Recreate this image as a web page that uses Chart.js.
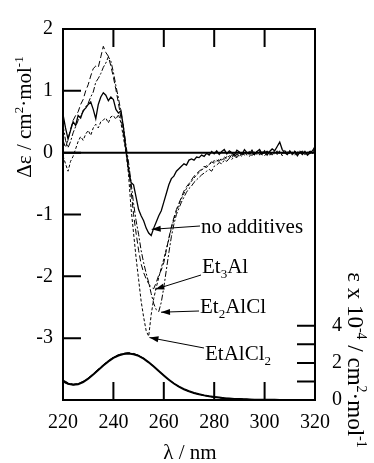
<!DOCTYPE html>
<html>
<head>
<meta charset="utf-8">
<script src="https://cdn.jsdelivr.net/npm/chart.js@4.4.1/dist/chart.umd.min.js"></script>
<style>
  html, body { margin: 0; padding: 0; background: #fff; }
  #wrap { width: 374px; height: 463px; }
</style>
</head>
<body>
<div id="wrap"><canvas id="cd"></canvas></div>
<script>
// wavelengths (nm) for the CD spectra
const wl = [220,221,222,223,224,225,226,227,228,229,230,231,232,233,234,235,236,237,238,239,
	240,241,242,243,244,245,246,247,248,249,250,251,252,253,254,255,256,257,258,259,
	260,261,262,263,264,265,266,267,268,269,270,271,272,273,274,275,276,277,278,279,
	280,281,282,283,284,285,286,287,288,289,290,291,292,293,294,295,296,297,298,299,
	300,301,302,303,304,305,306,307,308,309,310,311,312,313,314,315,316,317,318,319,320];

// delta epsilon, no additives (solid)
const cdNone = [0.62,0.40,0.22,0.36,0.50,0.44,0.60,0.56,0.68,0.72,0.78,0.82,0.70,0.55,0.78,0.90,0.97,0.93,0.84,0.90,
	0.86,0.70,0.64,0.68,0.40,0.05,-0.28,-0.48,-0.52,-0.72,-0.92,-1.02,-1.10,-1.22,-1.30,-1.34,-1.22,-1.12,-1.02,-0.94,
	-0.80,-0.66,-0.52,-0.42,-0.38,-0.30,-0.26,-0.22,-0.18,-0.20,-0.12,-0.10,-0.12,-0.07,-0.08,-0.04,-0.06,-0.01,-0.04,0.02,
	-0.02,0.03,-0.03,0.02,0.05,-0.02,0.03,0.00,-0.04,0.04,0.01,-0.03,0.05,0.00,-0.02,0.04,-0.03,0.02,0.05,-0.02,
	0.03,-0.04,0.02,0.06,0.03,0.10,0.17,0.05,0.00,-0.03,0.03,-0.02,0.02,-0.05,0.01,-0.03,0.02,-0.04,0.00,0.03,0.10];

// Et3Al (dashed)
const cdEt3Al = [0.20,0.08,0.22,0.38,0.52,0.60,0.66,0.78,0.86,1.00,1.10,1.24,1.36,1.40,1.38,1.55,1.72,1.62,1.56,1.40,
	1.22,1.02,0.80,0.56,0.30,0.04,-0.22,-0.60,-1.00,-1.30,-1.58,-1.80,-1.94,-2.04,-2.12,-2.18,-2.20,-2.10,-1.98,-1.90,
	-1.78,-1.58,-1.38,-1.20,-1.05,-0.92,-0.82,-0.72,-0.62,-0.55,-0.50,-0.44,-0.38,-0.34,-0.30,-0.27,-0.22,-0.24,-0.18,-0.15,
	-0.17,-0.12,-0.14,-0.08,-0.11,-0.06,-0.09,-0.03,-0.07,-0.02,-0.05,0.01,-0.04,-0.01,0.02,-0.05,-0.01,0.02,-0.04,0.01,
	-0.02,0.03,-0.05,0.00,0.02,-0.03,0.03,-0.02,0.01,-0.04,0.02,-0.01,0.03,-0.03,0.00,0.02,-0.04,0.01,-0.02,0.02,0.05];

// Et2AlCl (dash-dot)
const cdEt2AlCl = [0.45,0.20,0.08,0.18,0.32,0.42,0.52,0.60,0.66,0.74,0.80,0.90,0.98,1.14,1.20,1.28,1.38,1.45,1.55,1.48,
	1.30,1.08,0.88,0.66,0.42,0.12,-0.15,-0.48,-0.82,-1.10,-1.32,-1.58,-1.78,-1.95,-2.10,-2.28,-2.44,-2.54,-2.57,-2.42,
	-2.18,-1.90,-1.62,-1.36,-1.16,-1.00,-0.90,-0.80,-0.72,-0.64,-0.58,-0.54,-0.48,-0.44,-0.40,-0.36,-0.33,-0.30,-0.27,-0.30,
	-0.22,-0.20,-0.16,-0.18,-0.12,-0.14,-0.09,-0.11,-0.06,-0.08,-0.03,-0.06,0.00,-0.04,-0.01,-0.05,0.01,-0.03,0.02,-0.04,
	-0.01,0.02,-0.03,0.01,-0.02,0.03,-0.02,0.00,0.04,-0.03,0.01,-0.04,0.02,-0.01,0.03,-0.03,0.01,-0.02,0.03,-0.01,0.04];

// EtAlCl2 (short dash)
const cdEtAlCl2 = [-0.05,-0.18,-0.30,-0.14,-0.06,0.06,0.18,0.26,0.20,0.30,0.36,0.28,0.40,0.46,0.40,0.50,0.53,0.56,0.48,0.58,
	0.60,0.54,0.62,0.48,0.24,0.00,-0.35,-0.90,-1.30,-1.70,-2.05,-2.40,-2.66,-2.88,-2.97,-2.62,-2.36,-2.18,-2.02,-1.86,
	-1.72,-1.56,-1.40,-1.22,-1.08,-0.95,-0.84,-0.74,-0.66,-0.58,-0.52,-0.46,-0.41,-0.36,-0.32,-0.28,-0.25,-0.21,-0.19,-0.16,
	-0.13,-0.15,-0.10,-0.12,-0.07,-0.09,-0.05,-0.08,-0.03,-0.06,-0.01,-0.05,0.01,-0.03,-0.06,0.00,-0.04,0.01,-0.03,0.02,
	-0.05,0.00,0.02,-0.04,0.01,-0.02,0.02,-0.05,0.00,0.03,-0.02,0.01,-0.04,0.02,-0.01,0.03,-0.03,0.00,0.02,-0.02,0.06];

// UV absorption (epsilon x 10^-4), every 2 nm
const absWl = [220,222,224,226,228,230,232,234,236,238,240,242,244,246,248,250,252,254,256,258,
	260,262,264,266,268,270,272,274,276,278,280,282,284,286,288,290,292,294,296,298,
	300,302,304,306,308,310,312,314,316,318,320];
const absNone = [1.00,0.88,0.82,0.85,0.97,1.15,1.38,1.62,1.86,2.08,2.27,2.40,2.48,2.50,2.47,2.38,2.23,2.03,1.80,1.56,
	1.32,1.09,0.89,0.72,0.58,0.47,0.38,0.31,0.25,0.20,0.16,0.13,0.10,0.08,0.06,0.05,0.04,0.03,0.02,0.02,
	0.01,0.01,0.01,0,0,0,0,0,0,0,0];
const absEt3Al = [1.08,0.93,0.85,0.88,1.00,1.18,1.41,1.66,1.90,2.12,2.31,2.44,2.52,2.55,2.51,2.41,2.25,2.05,1.82,1.57,
	1.33,1.10,0.90,0.72,0.58,0.47,0.38,0.31,0.25,0.20,0.16,0.13,0.10,0.08,0.06,0.05,0.04,0.03,0.02,0.02,
	0.01,0.01,0.01,0,0,0,0,0,0,0,0];
const absEt2AlCl = [1.04,0.90,0.84,0.87,0.99,1.17,1.40,1.64,1.88,2.10,2.29,2.42,2.50,2.53,2.49,2.40,2.24,2.04,1.81,1.57,
	1.32,1.09,0.89,0.72,0.58,0.47,0.38,0.31,0.25,0.20,0.16,0.13,0.10,0.08,0.06,0.05,0.04,0.03,0.02,0.02,
	0.01,0.01,0.01,0,0,0,0,0,0,0,0];
const absEtAlCl2 = [0.98,0.86,0.81,0.86,0.98,1.16,1.39,1.63,1.87,2.09,2.28,2.41,2.49,2.52,2.48,2.39,2.23,2.03,1.80,1.56,
	1.32,1.09,0.89,0.72,0.58,0.47,0.38,0.31,0.25,0.20,0.16,0.13,0.10,0.08,0.06,0.05,0.04,0.03,0.02,0.02,
	0.01,0.01,0.01,0,0,0,0,0,0,0,0];

const xTicks = [220, 240, 260, 280, 300, 320];
const leftTicks = [-3, -2, -1, 0, 1, 2];
const rightTicks = [0, 2, 4];
const rightMinor = [1, 2, 3, 4];

const SERIF = '"Liberation Serif", "Times New Roman", serif';

function pts(xs, ys) {
	return xs.map((x, i) => ({ x: x, y: ys[i] }));
}

// draws text with sub / superscript pieces, centred on 0,0 of the current transform
function richText(ctx, parts, size, align) {
	let w = 0;
	const small = Math.round(size * 0.62);
	parts.forEach(p => {
		ctx.font = (p[1] ? small : size) + 'px ' + SERIF;
		p.w = ctx.measureText(p[0]).width;
		w += p.w;
	});
	let x = align === 'left' ? 0 : -w / 2;
	ctx.textBaseline = 'alphabetic';
	ctx.textAlign = 'left';
	parts.forEach(p => {
		ctx.font = (p[1] ? small : size) + 'px ' + SERIF;
		let dy = 0;
		if (p[1] === 'sup') dy = -size * 0.38;
		if (p[1] === 'sub') dy = size * 0.22;
		ctx.fillText(p[0], x, size * 0.33 + dy);
		x += p.w;
	});
}

function arrow(ctx, x0, y0, x1, y1) {
	ctx.beginPath();
	ctx.moveTo(x0, y0);
	ctx.lineTo(x1, y1);
	ctx.stroke();
	const a = Math.atan2(y1 - y0, x1 - x0);
	const L = 9, W = 3;
	ctx.beginPath();
	ctx.moveTo(x1, y1);
	ctx.lineTo(x1 - L * Math.cos(a) + W * Math.sin(a), y1 - L * Math.sin(a) - W * Math.cos(a));
	ctx.lineTo(x1 - L * Math.cos(a) - W * Math.sin(a), y1 - L * Math.sin(a) + W * Math.cos(a));
	ctx.closePath();
	ctx.fill();
}

const framePlugin = {
	id: 'frame',
	afterDraw(chart) {
		const ctx = chart.ctx;
		const a = chart.chartArea;
		const sx = chart.scales.x, sy = chart.scales.y, sy2 = chart.scales.y2;
		ctx.save();
		ctx.strokeStyle = '#000';
		ctx.fillStyle = '#000';
		ctx.lineWidth = 2;
		ctx.strokeRect(a.left, a.top, a.right - a.left, a.bottom - a.top);

		// zero line
		const y0 = sy.getPixelForValue(0);
		ctx.beginPath();
		ctx.moveTo(a.left, y0);
		ctx.lineTo(a.right, y0);
		ctx.stroke();

		// inward ticks
		const T = 18;
		ctx.lineWidth = 2;
		ctx.beginPath();
		xTicks.slice(1, -1).forEach(v => {
			const px = sx.getPixelForValue(v);
			ctx.moveTo(px, a.top); ctx.lineTo(px, a.top + T);
			ctx.moveTo(px, a.bottom); ctx.lineTo(px, a.bottom - T);
		});
		leftTicks.slice(0, -1).forEach(v => {
			const py = sy.getPixelForValue(v);
			ctx.moveTo(a.left, py); ctx.lineTo(a.left + T, py);
		});
		rightMinor.forEach(v => {
			const py = sy2.getPixelForValue(v);
			ctx.moveTo(a.right, py); ctx.lineTo(a.right - T, py);
		});
		ctx.stroke();

		// labels with arrows
		ctx.lineWidth = 1;
		const notes = [
			{ parts: [['no additives']], tx: 201, ty: 226, from: [200, 226], tip: [255.2, -1.24] },
			{ parts: [['Et'], ['3', 'sub'], ['Al']], tx: 202, ty: 266, from: [201, 275], tip: [256.6, -2.21] },
			{ parts: [['Et'], ['2', 'sub'], ['AlCl']], tx: 200, ty: 306, from: [199, 311], tip: [258.9, -2.58] },
			{ parts: [['EtAlCl'], ['2', 'sub']], tx: 205, ty: 353, from: [204, 348], tip: [254.3, -2.99] }
		];
		notes.forEach(n => {
			arrow(ctx, n.from[0], n.from[1], sx.getPixelForValue(n.tip[0]), sy.getPixelForValue(n.tip[1]));
			ctx.save();
			ctx.translate(n.tx, n.ty);
			richText(ctx, n.parts, 21, 'left');
			ctx.restore();
		});

		// axis titles
		ctx.save();
		ctx.translate(24, 117);
		ctx.rotate(-Math.PI / 2);
		richText(ctx, [['\u0394\u03b5 / cm'], ['2', 'sup'], ['\u00b7mol'], ['-1', 'sup']], 21);
		ctx.restore();

		ctx.save();
		ctx.translate(356, 360);
		ctx.rotate(Math.PI / 2);
		richText(ctx, [['\u03b5 x 10'], ['-4', 'sup'], [' / cm'], ['2', 'sup'], ['\u00b7mol'], ['-1', 'sup']], 23);
		ctx.restore();

		ctx.save();
		ctx.translate(190, 452);
		richText(ctx, [['\u03bb / nm']], 21);
		ctx.restore();

		ctx.restore();
	}
};

const tickFont = { family: SERIF, size: 20 };

new Chart(document.getElementById('cd'), {
	type: 'line',
	data: {
		datasets: [
			{ label: 'no additives', data: pts(wl, cdNone), yAxisID: 'y', borderColor: '#000', borderWidth: 1.3 },
			{ label: 'Et3Al', data: pts(wl, cdEt3Al), yAxisID: 'y', borderColor: '#000', borderWidth: 1, borderDash: [6, 3] },
			{ label: 'Et2AlCl', data: pts(wl, cdEt2AlCl), yAxisID: 'y', borderColor: '#000', borderWidth: 1, borderDash: [6, 2, 2, 2] },
			{ label: 'EtAlCl2', data: pts(wl, cdEtAlCl2), yAxisID: 'y', borderColor: '#000', borderWidth: 1, borderDash: [3, 2] },
			{ label: 'abs none', data: pts(absWl, absNone), yAxisID: 'y2', borderColor: '#000', borderWidth: 2 },
			{ label: 'abs Et3Al', data: pts(absWl, absEt3Al), yAxisID: 'y2', borderColor: '#000', borderWidth: 1, borderDash: [6, 3] },
			{ label: 'abs Et2AlCl', data: pts(absWl, absEt2AlCl), yAxisID: 'y2', borderColor: '#000', borderWidth: 1, borderDash: [6, 2, 2, 2] },
			{ label: 'abs EtAlCl2', data: pts(absWl, absEtAlCl2), yAxisID: 'y2', borderColor: '#000', borderWidth: 1, borderDash: [3, 2] }
		]
	},
	options: {
		responsive: true,
		maintainAspectRatio: false,
		animation: false,
		events: [],
		layout: { padding: { top: 22, left: 0, right: 0, bottom: 0 } },
		elements: { point: { radius: 0 }, line: { tension: 0, fill: false } },
		plugins: { legend: { display: false }, tooltip: { enabled: false } },
		scales: {
			x: {
				type: 'linear', min: 220, max: 320,
				grid: { display: false, drawTicks: false },
				border: { display: false },
				ticks: { stepSize: 20, color: '#000', font: tickFont, padding: 11, maxRotation: 0 },
				afterFit: s => { s.height = 63; }
			},
			y: {
				position: 'left', min: -4, max: 2,
				grid: { display: false, drawTicks: false },
				border: { display: false },
				ticks: { stepSize: 1, color: '#000', font: tickFont, padding: 10,
					callback: v => leftTicks.includes(v) ? String(v) : '' },
				afterFit: s => { s.width = 63; }
			},
			y2: {
				position: 'right', min: 0, max: 20,
				grid: { display: false, drawTicks: false },
				border: { display: false },
				ticks: { stepSize: 1, autoSkip: false, color: '#000', font: tickFont, padding: 17,
					callback: v => rightTicks.includes(v) ? String(v) : '' },
				afterFit: s => { s.width = 59; }
			}
		}
	},
	plugins: [framePlugin]
});
</script>
</body>
</html>
